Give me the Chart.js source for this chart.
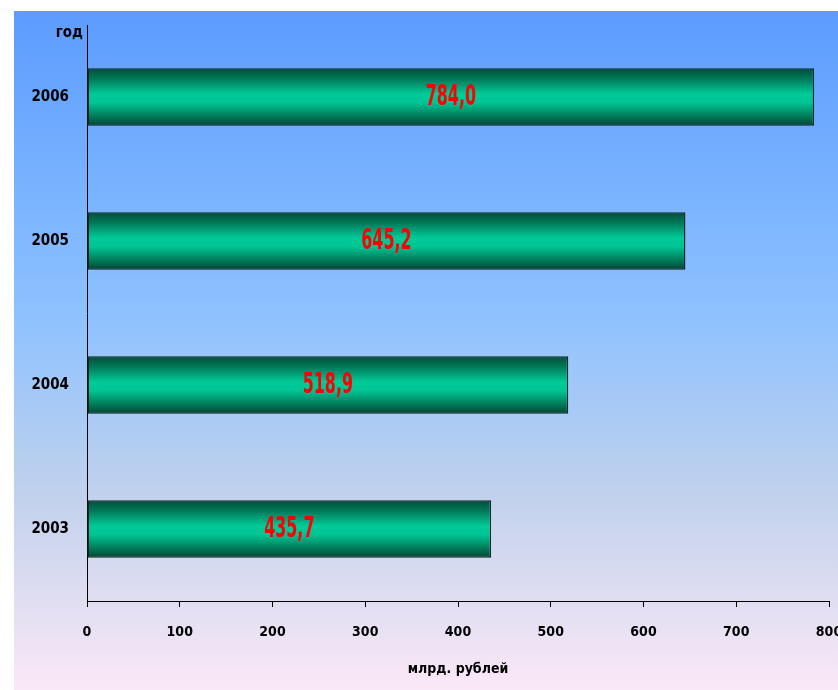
<!DOCTYPE html>
<html>
<head>
<meta charset="utf-8">
<script src="https://cdn.jsdelivr.net/npm/chart.js@4"></script>
<style>
    html, body { margin: 0; padding: 0; background: #fff; overflow: hidden; }
    #wrap { width: 860px; height: 690px; }
</style>
</head>
<body>
<div id="wrap"><canvas id="chart"></canvas></div>
<script>
// данные
const years = ['2003', '2004', '2005', '2006'];
const values = [435.7, 518.9, 645.2, 784.0];
const xTicks = [0, 100, 200, 300, 400, 500, 600, 700, 800];

const narrow = "'Liberation Sans Narrow', 'DejaVu Sans Condensed', Arial, sans-serif";

// фон с градиентом
const backgroundPlugin = {
    id: 'bg',
    beforeDraw(chart) {
        const ctx = chart.ctx;
        const g = ctx.createLinearGradient(0, 11, 0, 690);
        g.addColorStop(0, '#5c9cff');
        g.addColorStop(0.45, '#8ec2ff');
        g.addColorStop(0.72, '#c2d2ec');
        g.addColorStop(1, '#fbe8f7');
        ctx.save();
        ctx.fillStyle = g;
        ctx.fillRect(14, 11, chart.width - 14, chart.height - 11);
        ctx.restore();
    }
};

// подписи значений и "год"
const labelsPlugin = {
    id: 'labels',
    afterDatasetsDraw(chart) {
        const ctx = chart.ctx;
        const meta = chart.getDatasetMeta(0);
        ctx.save();
        ctx.fillStyle = '#ff0000';
        ctx.font = 'bold 26px ' + narrow;
        ctx.textAlign = 'center';
        ctx.textBaseline = 'middle';
        meta.data.forEach((bar, i) => {
            const cx = (bar.x + bar.base) / 2;
            ctx.save();
            ctx.translate(cx, bar.y + 1);
            ctx.scale(0.68, 1.1);
            ctx.fillText(values[i].toFixed(1).replace('.', ','), 0, 0);
            ctx.restore();
        });
        ctx.fillStyle = '#000';
        ctx.font = 'bold 15px ' + narrow;
        ctx.textAlign = 'right';
        ctx.fillText('год', chart.chartArea.left - 4, 33);
        ctx.restore();
    }
};

function barGradient(context) {
    const chart = context.chart;
    const area = chart.chartArea;
    if (!area) return '#00c896';
    const yScale = chart.scales.y;
    const y = yScale.getPixelForValue(context.dataIndex);
    const half = (area.bottom - area.top) / years.length * 0.4 / 2;
    const g = chart.ctx.createLinearGradient(0, y - half, 0, y + half);
    g.addColorStop(0, '#004d38');
    g.addColorStop(0.2, '#007d5c');
    g.addColorStop(0.45, '#00cc99');
    g.addColorStop(0.6, '#00c493');
    g.addColorStop(0.85, '#007655');
    g.addColorStop(1, '#004533');
    return g;
}

new Chart(document.getElementById('chart'), {
    type: 'bar',
    data: {
        labels: years,
        datasets: [{
            data: values,
            backgroundColor: barGradient,
            borderColor: '#0b2a21',
            borderWidth: 1.5,
            borderSkipped: false,
            categoryPercentage: 1,
            barPercentage: 0.4
        }]
    },
    options: {
        indexAxis: 'y',
        responsive: true,
        maintainAspectRatio: false,
        animation: false,
        layout: { padding: { top: 25, right: 31, left: 0, bottom: 0 } },
        plugins: {
            legend: { display: false },
            tooltip: { enabled: false }
        },
        scales: {
            x: {
                min: 0,
                max: 800,
                afterBuildTicks(scale) {
                    scale.ticks = xTicks.map(v => ({ value: v }));
                },
                afterFit(scale) { scale.height = 89; },
                grid: {
                    drawOnChartArea: false,
                    drawTicks: true,
                    tickLength: 6,
                    color: '#000'
                },
                border: { display: true, color: '#000', width: 1 },
                ticks: {
                    padding: 17,
                    color: '#000',
                    maxRotation: 0,
                    font: { family: narrow, size: 14, weight: 'bold' }
                },
                title: {
                    display: true,
                    text: 'млрд. рублей',
                    color: '#000',
                    padding: { top: 0, bottom: 12 },
                    font: { family: narrow, size: 14, weight: 'bold' }
                }
            },
            y: {
                reverse: true,
                afterFit(scale) { scale.width = 87; },
                grid: { display: false },
                border: { display: true, color: '#000', width: 1 },
                ticks: {
                    padding: 10,
                    color: '#000',
                    font: { family: narrow, size: 15, weight: 'bold' }
                }
            }
        }
    },
    plugins: [backgroundPlugin, labelsPlugin]
});
</script>
</body>
</html>
